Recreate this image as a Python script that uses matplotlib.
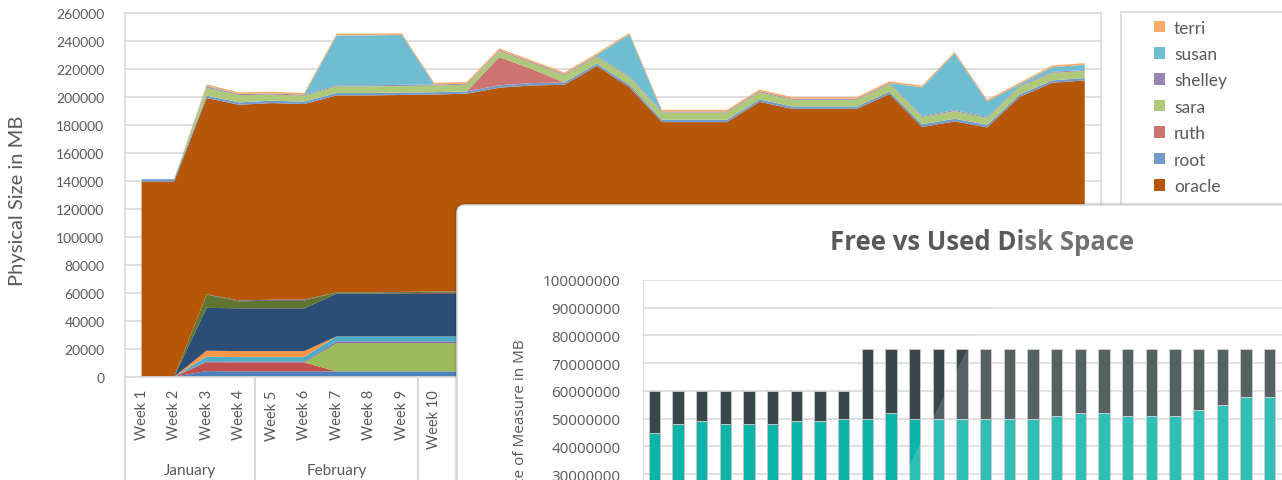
import matplotlib
matplotlib.use('Agg')
import matplotlib.pyplot as plt
from matplotlib.patches import FancyBboxPatch, Rectangle, Polygon
from matplotlib.transforms import blended_transform_factory

plt.rcParams['font.family'] = ['Lato', 'DejaVu Sans']

W, H = 1282, 481
TXT = '#595959'
GRID = '#D9D9D9'

# ---- 背景: 每周各用户占用空间 (MB) ----
weeks = ['Week %d' % i for i in range(1, 31)]
months = ['January', 'February', 'March', 'April', 'May', 'June', 'July']
month_weeks = [4, 5, 4, 4, 5, 4, 4]

apache = [0, 0, 4000, 3800, 3800, 3800, 3800, 3800, 3800, 3800, 3800, 3800, 3800, 3800, 3800,
          3800, 3800, 3800, 3800, 3800, 3800, 3800, 3800, 3800, 3800, 3800, 3800, 3800, 3800, 3800]
bin_ = [0, 0, 6300, 6400, 6400, 6400, 0, 0, 0, 0, 0, 0, 0, 0, 0,
        0, 0, 0, 0, 0, 0, 0, 0, 0, 0, 0, 0, 0, 0, 0]
daemon = [0, 0, 0, 0, 0, 0, 20200, 20200, 20200, 20200, 20200, 20200, 20200, 20200, 20200,
          20200, 20200, 20200, 20200, 20200, 20200, 20200, 20200, 20200, 20200, 20200, 20200, 20200, 20200, 20200]
ftp = [0, 0, 700, 700, 700, 700, 1200, 1200, 1200, 1200, 1200, 1200, 1200, 1200, 1200,
       1200, 1200, 1200, 1200, 1200, 1200, 1200, 1200, 1200, 1200, 1200, 1200, 1200, 1200, 1200]
games = [0, 0, 3300, 3100, 3100, 3100, 3600, 3600, 3600, 3600, 3600, 3600, 3600, 3600, 3600,
         3600, 3600, 3600, 3600, 3600, 3600, 3600, 3600, 3600, 3600, 3600, 3600, 3600, 3600, 3600]
gdm = [0, 0, 4300, 4300, 4300, 4300, 0, 0, 0, 0, 0, 0, 0, 0, 0,
       0, 0, 0, 0, 0, 0, 0, 0, 0, 0, 0, 0, 0, 0, 0]
lp = [0, 0, 30600, 30600, 30600, 30600, 30600, 30600, 30600, 30600, 30600, 30600, 30600, 30600, 30600,
      30600, 30600, 30600, 30600, 30600, 30600, 30600, 30600, 30600, 30600, 30600, 30600, 30600, 30600, 30600]
mail = [0, 0, 0, 0, 0, 0, 0, 0, 300, 600, 600, 600, 600, 600, 600,
        600, 600, 600, 600, 600, 600, 600, 600, 600, 600, 600, 600, 600, 600, 600]
mysql = [0, 0, 9500, 4900, 5500, 5500, 700, 700, 700, 700, 700, 700, 700, 700, 700,
         700, 700, 700, 700, 700, 700, 700, 700, 700, 700, 700, 700, 700, 700, 700]
nobody = [0, 0, 0, 500, 500, 500, 0, 0, 0, 0, 0, 0, 0, 0, 0,
          0, 0, 0, 0, 0, 0, 0, 0, 0, 0, 0, 0, 0, 0, 0]
nagios = [0, 0, 200, 200, 200, 200, 200, 200, 200, 200, 200, 200, 200, 200, 200,
          200, 200, 200, 200, 200, 200, 200, 200, 200, 200, 200, 200, 200, 200, 200]
oracle = [139500, 139500, 140300, 139900, 140500, 139800, 140800, 140800, 140800, 140800,
          141400, 145700, 147300, 147800, 161200, 146100, 121100, 121100, 121100, 135600,
          130600, 130600, 130600, 141200, 117600, 121600, 117300, 139200, 149200, 150900]
root = [1700, 1700, 1700, 1700, 1700, 1700, 1700, 1700, 1700, 1700, 1700, 1700, 1700, 1700, 1700,
        1700, 1700, 1700, 1700, 1700, 1700, 1700, 1700, 1700, 1900, 1900, 1900, 1700, 1700, 1700]
ruth = [0, 0, 0, 0, 0, 0, 0, 0, 0, 0, 0, 20200, 10000, 0, 0,
        0, 0, 0, 0, 0, 0, 0, 0, 0, 0, 0, 0, 0, 0, 0]
sara = [0, 0, 5700, 5200, 4500, 4300, 4800, 4800, 4800, 4800, 4800, 4300, 4300, 5200, 5000,
        5500, 5200, 5200, 5200, 5200, 4800, 4800, 4800, 5500, 5200, 5500, 4800, 5500, 5500, 5000]
shelley = [0, 0, 700, 700, 700, 700, 700, 700, 700, 700, 700, 700, 700, 700, 700,
           700, 700, 700, 700, 700, 700, 700, 700, 700, 700, 700, 700, 700, 700, 700]
susan = [0, 0, 500, 0, 0, 0, 35700, 35700, 35700, 0, 0, 0, 0, 0, 500,
         29800, 0, 0, 0, 0, 0, 0, 0, 0, 20500, 40500, 11200, 1000, 3300, 3800]
terri = [0, 0, 1200, 1200, 1200, 1200, 1200, 1200, 1200, 1200, 1200, 1200, 1200, 1200, 1200,
         1200, 1200, 1200, 1200, 1200, 1200, 1200, 1200, 1200, 1200, 1200, 1200, 1200, 1200, 1200]

users = ['apache', 'bin', 'daemon', 'ftp', 'games', 'gdm', 'lp', 'mail', 'mysql', 'nobody',
         'nagios', 'oracle', 'root', 'ruth', 'sara', 'shelley', 'susan', 'terri']
user_sizes = [apache, bin_, daemon, ftp, games, gdm, lp, mail, mysql, nobody,
              nagios, oracle, root, ruth, sara, shelley, susan, terri]
user_colors = ['#4F81BD', '#C0504D', '#9BBB59', '#8064A2', '#4BACC6', '#F79646',
               '#2C4D75', '#772C2A', '#5F7530', '#4D3B62', '#276A7C', '#B65708',
               '#729ACA', '#CD7371', '#AFC97A', '#9983B5', '#6FBDD1', '#F9AB6B']

# ---- 前景: 磁盘空闲/已用 (百万MB) ----
used = [45, 48, 49, 48, 48, 48, 49, 49, 50,
        50, 52, 50, 50, 50, 50, 50, 50, 51, 52, 52, 51, 51, 51, 53, 55, 58, 58]
free = [15, 12, 11, 12, 12, 12, 11, 11, 10,
        25, 23, 25, 25, 25, 25, 25, 25, 24, 23, 23, 24, 24, 24, 22, 20, 17, 17]
used_mb = [v * 1000000 for v in used]
free_mb = [v * 1000000 for v in free]

fig = plt.figure(figsize=(W / 100, H / 100), dpi=100)


def px_axes(z):
    a = fig.add_axes([0, 0, 1, 1], zorder=z)
    a.set_xlim(0, W)
    a.set_ylim(H, 0)
    a.axis('off')
    a.patch.set_alpha(0)
    return a


# 主图: 堆叠面积
ax = fig.add_axes([125.3 / W, (H - 377.7) / H, (1101 - 125.3) / W, (377.7 - 14) / H], zorder=1)
x = list(range(len(weeks)))
ax.stackplot(x, user_sizes, colors=user_colors, labels=users, linewidth=0)
ax.set_xlim(-0.5, len(weeks) - 0.5)
ax.set_ylim(0, 260000)
ax.set_yticks(range(0, 260001, 20000))
ax.tick_params(axis='y', length=0, pad=15, labelsize=10, labelcolor=TXT)
ax.yaxis.grid(True, color=GRID, linewidth=1.2)
ax.set_axisbelow(True)
for s in ax.spines.values():
    s.set_color(GRID)
    s.set_linewidth(1.2)
ax.set_xticks(x)
ax.set_xticklabels(weeks, rotation=90, fontsize=10.5, color=TXT)
ax.tick_params(axis='x', length=0, pad=9)

# 月份分组
tr = blended_transform_factory(ax.transData, ax.transAxes)
edge = -0.5
for m, n in zip(months, month_weeks):
    ax.plot([edge, edge], [0, -0.4], color=GRID, lw=1.5, transform=tr, clip_on=False)
    ax.text(edge + n / 2, -0.257, m, transform=tr, ha='center', va='center',
            fontsize=11, color=TXT)
    edge += n

fig.text(18 / W, 1 - 201 / H, 'Physical Size in MB', rotation=90, ha='center', va='center',
         fontsize=14.5, color=TXT)

# 图例
hs, ls = ax.get_legend_handles_labels()
ax.add_patch(Rectangle((1121 / W, -0.2), 0.2, 1 - 13 / H + 0.2, transform=fig.transFigure,
                       facecolor='white', edgecolor=GRID, lw=1.2, clip_on=False))
ax.legend(hs[::-1], ls[::-1], loc='upper left', bbox_to_anchor=(1154 / W, 1 - 20.5 / H),
          bbox_transform=fig.transFigure, frameon=False, borderpad=0, borderaxespad=0,
          fontsize=12.5, handlelength=0.65, handleheight=0.65, handletextpad=0.5,
          labelspacing=0.6, labelcolor=TXT)

# 前景面板
panel = px_axes(5)
for k, a in enumerate([0.05, 0.05, 0.06]):
    d = 3 - k
    panel.add_patch(FancyBboxPatch((457 - d, 206 - d), 900, 400,
                                   boxstyle='round,pad=0,rounding_size=%d' % (8 + d),
                                   facecolor='#000000', edgecolor='none', alpha=a))
panel.add_patch(FancyBboxPatch((457, 206), 900, 400, boxstyle='round,pad=0,rounding_size=8',
                               facecolor='white', edgecolor='#D4D4D4', lw=1.2))
panel.text(982, 243, 'Free vs Used Disk Space', ha='center', va='center', fontsize=18.5,
           fontweight='bold', color=TXT, family=['Open Sans', 'DejaVu Sans'])
panel.text(521, 418, 'Size of Measure in MB', rotation=90, ha='center', va='center',
           fontsize=11, color=TXT, family=['Open Sans', 'DejaVu Sans'])

step = 23.67
bx = fig.add_axes([642.5 / W, (H - 558.4) / H, 28 * step / W, (558.4 - 281) / H], zorder=6)
bx.patch.set_alpha(0)
xb = list(range(len(used)))
bx.bar(xb, used_mb, width=0.48, color='#0BB4A8', edgecolor='#C4C4C4', linewidth=0.7)
bx.bar(xb, free_mb, width=0.48, bottom=used_mb, color='#37474A', edgecolor='#C4C4C4', linewidth=0.7)
bx.set_xlim(-0.5, 27.5)
bx.set_ylim(0, 100000000)
bx.set_yticks(range(0, 100000001, 10000000))
bx.set_yticklabels([str(v) for v in range(0, 100000001, 10000000)],
                   family=['Open Sans', 'DejaVu Sans'])
bx.tick_params(axis='y', length=0, pad=16, labelsize=11, labelcolor=TXT)
bx.set_xticks([])
bx.yaxis.grid(True, color=GRID, linewidth=1.2)
bx.set_axisbelow(True)
for n, s in bx.spines.items():
    s.set_visible(n == 'left')
    s.set_color(GRID)

# 右侧的半透明光泽
gloss = px_axes(7)
gloss.add_patch(Polygon([(1039, 206), (1300, 206), (1300, 495), (895, 495)],
                        closed=True, facecolor='white', edgecolor='none', alpha=0.15))

fig.savefig('out.png', dpi=100)
